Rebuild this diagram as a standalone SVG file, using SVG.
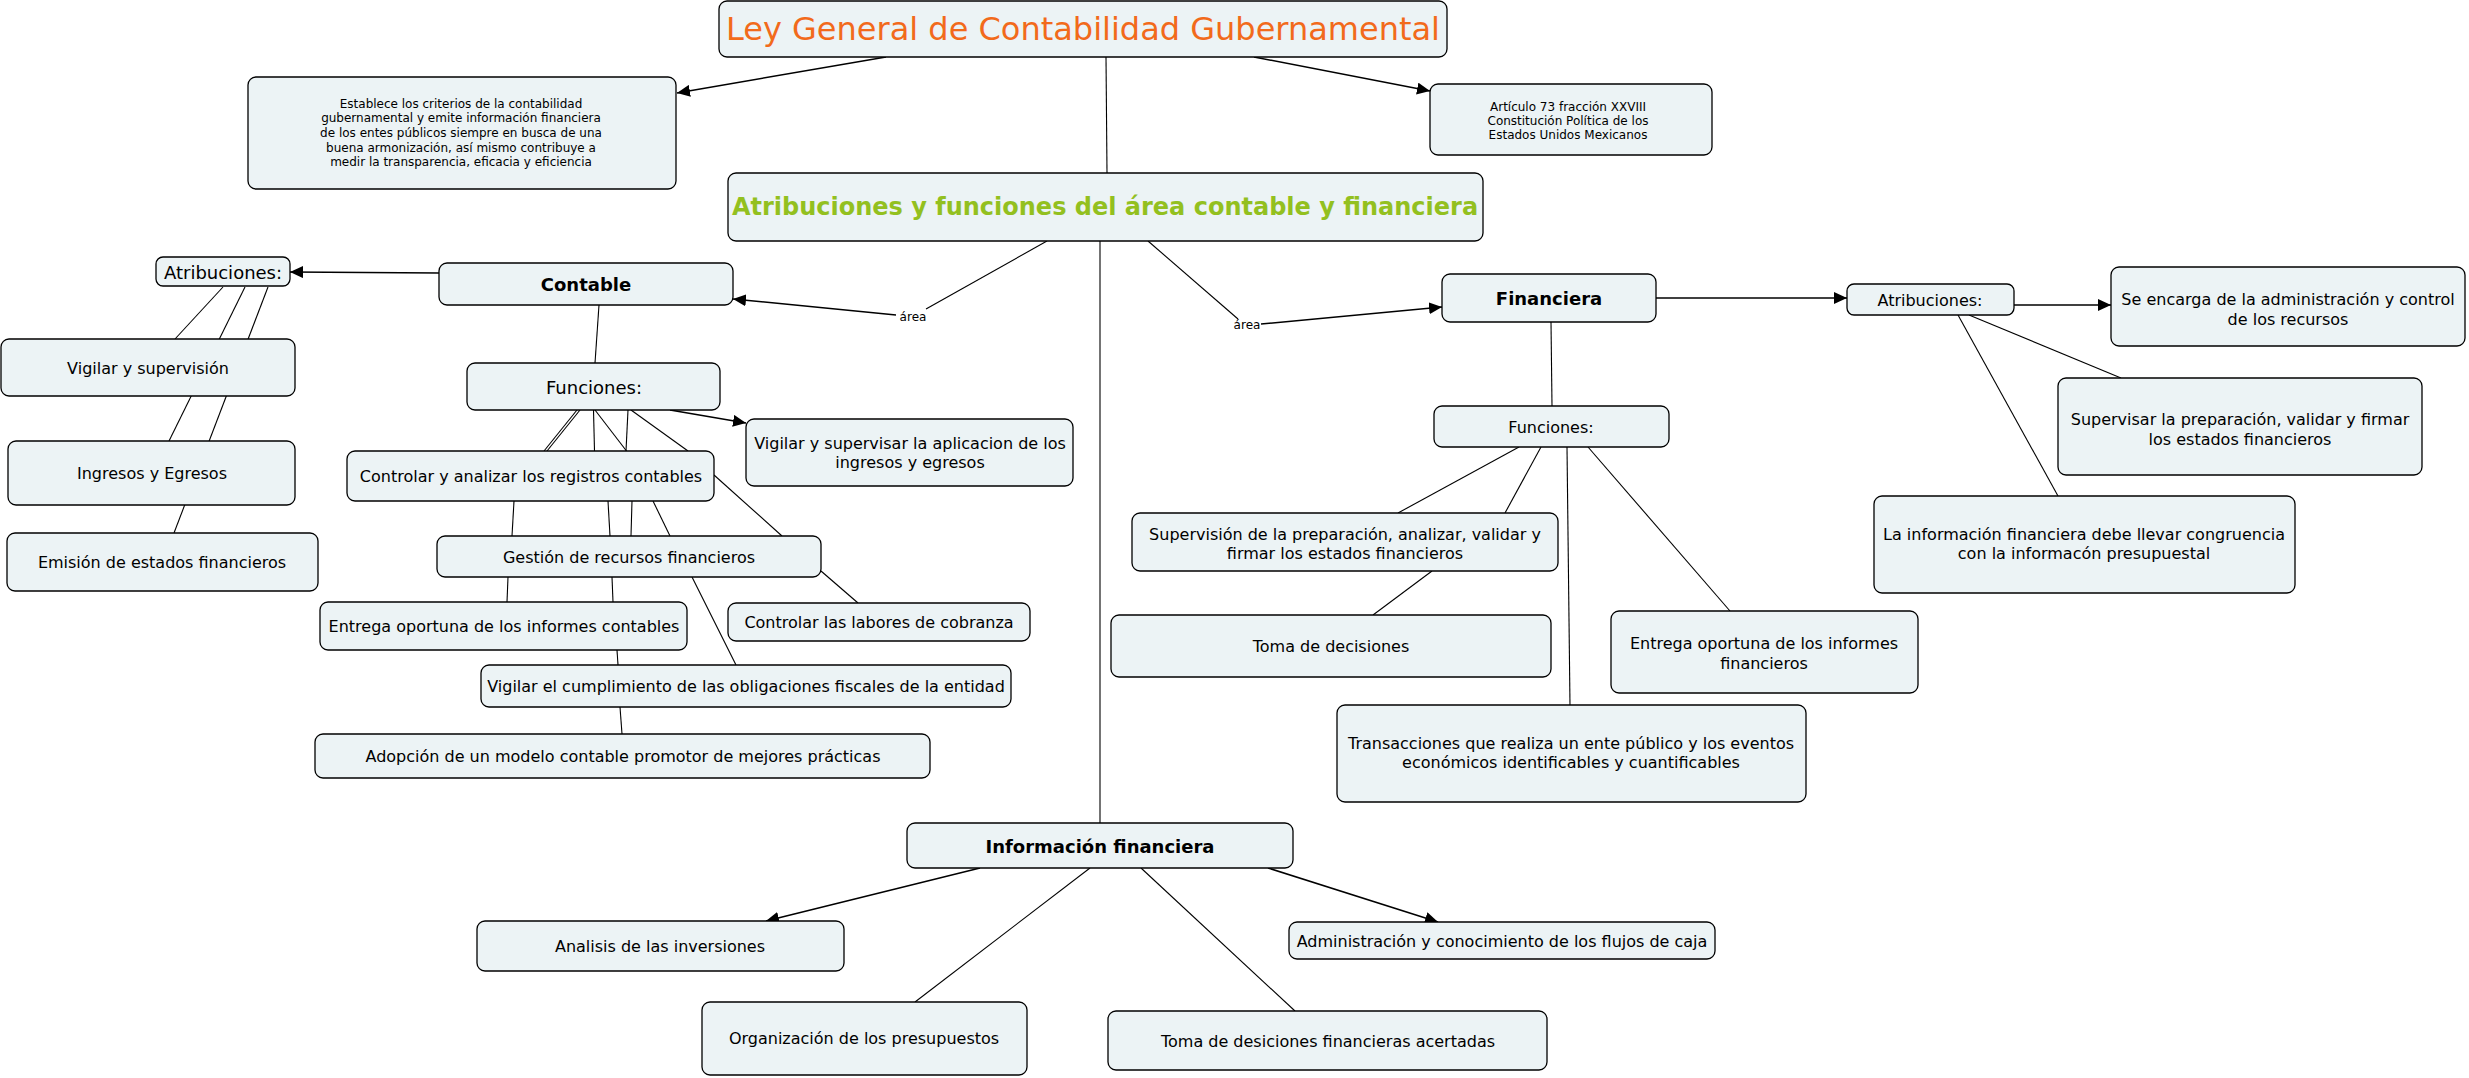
<svg xmlns="http://www.w3.org/2000/svg" width="2469" height="1078" viewBox="0 0 2469 1078">
<defs>
<marker id="ah" markerUnits="userSpaceOnUse" markerWidth="14" markerHeight="12" refX="13" refY="6" orient="auto">
<path d="M0,0 L13,6 L0,12 Z" fill="#000"/>
</marker>
<style>
.n rect{fill:#ECF3F5;stroke:#000;stroke-width:1.3}
.n text{font-family:"DejaVu Sans",Verdana,sans-serif;font-size:16px;fill:#000;text-anchor:middle;dominant-baseline:central}
.n text.s{font-size:12px}
.n text.b{font-weight:bold;font-size:18px}
.n text.m{font-size:18px}
#c line{stroke:#000;stroke-width:1.1}
#c line.a{stroke-width:1.5;marker-end:url(#ah)}
.lbl{font-family:"DejaVu Sans",Verdana,sans-serif;font-size:12px;fill:#000;text-anchor:middle;dominant-baseline:central}
</style>
</defs>
<rect width="2469" height="1078" fill="#fff"/>
<g id="c">
<line class="a" x1="886" y1="57" x2="677" y2="93"/>
<line x1="1106" y1="57" x2="1107" y2="173"/>
<line class="a" x1="1254" y1="57" x2="1430" y2="91"/>
<line x1="1047" y1="241" x2="926" y2="309"/>
<line class="a" x1="896" y1="315" x2="733" y2="299"/>
<line x1="1148" y1="241" x2="1238" y2="319"/>
<line class="a" x1="1261" y1="324" x2="1442" y2="307"/>
<line x1="1100" y1="241" x2="1100" y2="823"/>
<line class="a" x1="439" y1="273" x2="290" y2="272"/>
<line x1="223" y1="287" x2="175" y2="339"/>
<line x1="245" y1="287" x2="169" y2="441"/>
<line x1="268" y1="287" x2="174" y2="533"/>
<line x1="599" y1="305" x2="595" y2="363"/>
<line class="a" x1="670" y1="410" x2="746" y2="423"/>
<line x1="577" y1="410" x2="544" y2="451"/>
<line x1="580" y1="410" x2="547" y2="451"/>
<line x1="593.5" y1="410" x2="594.5" y2="451"/>
<line x1="595" y1="410" x2="626.5" y2="451"/>
<line x1="628" y1="410" x2="626" y2="451"/>
<line x1="631" y1="410" x2="688" y2="451"/>
<line x1="514" y1="501" x2="512" y2="536"/>
<line x1="608" y1="501" x2="610" y2="536"/>
<line x1="632" y1="501" x2="631" y2="536"/>
<line x1="653" y1="501" x2="670" y2="536"/>
<line x1="714" y1="475" x2="782" y2="536"/>
<line x1="508" y1="577" x2="507" y2="602"/>
<line x1="612" y1="577" x2="613" y2="602"/>
<line x1="692" y1="577" x2="736" y2="665"/>
<line x1="821" y1="571" x2="858" y2="603"/>
<line x1="617" y1="650" x2="618" y2="665"/>
<line x1="620" y1="707" x2="622" y2="734"/>
<line x1="1551" y1="322" x2="1552" y2="406"/>
<line class="a" x1="1656" y1="298" x2="1847" y2="298"/>
<line class="a" x1="2014" y1="305" x2="2111" y2="305"/>
<line x1="1969" y1="315" x2="2121" y2="378"/>
<line x1="1958" y1="315" x2="2058" y2="496"/>
<line x1="1519" y1="447" x2="1398" y2="513"/>
<line x1="1541" y1="447" x2="1505" y2="513"/>
<line x1="1567" y1="447" x2="1570" y2="705"/>
<line x1="1588" y1="447" x2="1730" y2="611"/>
<line x1="1432" y1="571" x2="1373" y2="615"/>
<line class="a" x1="980" y1="868" x2="766" y2="921"/>
<line x1="1090" y1="868" x2="915" y2="1002"/>
<line x1="1141" y1="868" x2="1295" y2="1011"/>
<line class="a" x1="1268" y1="868" x2="1438" y2="922"/>
<text class="lbl" x="913" y="317">área</text>
<text class="lbl" x="1247" y="325">área</text>
</g>
<g id="title" class="n"><rect x="719" y="1" width="728" height="56" rx="8"/><text x="1083" y="29" style="font-size:32px;fill:#F26A1B">Ley General de Contabilidad Gubernamental</text></g>
<g id="establece" class="n"><rect x="248" y="77" width="428" height="112" rx="8"/>
<text class="s" x="461" y="103.6">Establece los criterios de la contabilidad</text>
<text class="s" x="461" y="118.3">gubernamental y emite información financiera</text>
<text class="s" x="461" y="133">de los entes públicos siempre en busca de una</text>
<text class="s" x="461" y="147.7">buena armonización, así mismo contribuye a</text>
<text class="s" x="461" y="162.4">medir la transparencia, eficacia y eficiencia</text></g>
<g id="articulo" class="n"><rect x="1430" y="84" width="282" height="71" rx="8"/>
<text class="s" x="1568" y="107">Artículo 73 fracción XXVIII</text>
<text class="s" x="1568" y="121">Constitución Política de los</text>
<text class="s" x="1568" y="135">Estados Unidos Mexicanos</text></g>
<g id="main" class="n"><rect x="728" y="173" width="755" height="68" rx="8"/><text x="1105" y="207" style="font-size:24px;font-weight:bold;fill:#93C01F">Atribuciones y funciones del área contable y financiera</text></g>
<g id="contable" class="n"><rect x="439" y="263" width="294" height="42" rx="8"/><text class="b" x="586" y="284">Contable</text></g>
<g id="atribL" class="n"><rect x="156" y="257" width="134" height="29" rx="7"/><text class="m" x="223" y="272">Atribuciones:</text></g>
<g id="vigilarSup" class="n"><rect x="1" y="339" width="294" height="57" rx="8"/><text x="148" y="368">Vigilar y supervisión</text></g>
<g id="ingresos" class="n"><rect x="8" y="441" width="287" height="64" rx="8"/><text x="152" y="473">Ingresos y Egresos</text></g>
<g id="emision" class="n"><rect x="7" y="533" width="311" height="58" rx="8"/><text x="162" y="562">Emisión de estados financieros</text></g>
<g id="funcionesC" class="n"><rect x="467" y="363" width="253" height="47" rx="8"/><text class="m" x="594" y="387">Funciones:</text></g>
<g id="vigilarApl" class="n"><rect x="746" y="419" width="327" height="67" rx="8"/><text x="910" y="443">Vigilar y supervisar la aplicacion de los</text><text x="910" y="462">ingresos y egresos</text></g>
<g id="controlar" class="n"><rect x="347" y="451" width="367" height="50" rx="8"/><text x="531" y="476">Controlar y analizar los registros contables</text></g>
<g id="gestion" class="n"><rect x="437" y="536" width="384" height="41" rx="8"/><text x="629" y="557">Gestión de recursos financieros</text></g>
<g id="entregaC" class="n"><rect x="320" y="602" width="367" height="48" rx="8"/><text x="504" y="626">Entrega oportuna de los informes contables</text></g>
<g id="cobranza" class="n"><rect x="728" y="603" width="302" height="38" rx="8"/><text x="879" y="622">Controlar las labores de cobranza</text></g>
<g id="vigilarCump" class="n"><rect x="481" y="665" width="530" height="42" rx="8"/><text x="746" y="686">Vigilar el cumplimiento de las obligaciones fiscales de la entidad</text></g>
<g id="adopcion" class="n"><rect x="315" y="734" width="615" height="44" rx="8"/><text x="623" y="756">Adopción de un modelo contable promotor de mejores prácticas</text></g>
<g id="financiera" class="n"><rect x="1442" y="274" width="214" height="48" rx="8"/><text class="b" x="1549" y="298">Financiera</text></g>
<g id="atribR" class="n"><rect x="1847" y="284" width="167" height="31" rx="7"/><text x="1930" y="300">Atribuciones:</text></g>
<g id="seEncarga" class="n"><rect x="2111" y="267" width="354" height="79" rx="8"/><text x="2288" y="299">Se encarga de la administración y control</text><text x="2288" y="319">de los recursos</text></g>
<g id="supervisar" class="n"><rect x="2058" y="378" width="364" height="97" rx="8"/><text x="2240" y="419">Supervisar la preparación, validar y firmar</text><text x="2240" y="439">los estados financieros</text></g>
<g id="laInfo" class="n"><rect x="1874" y="496" width="421" height="97" rx="8"/><text x="2084" y="534">La información financiera debe llevar congruencia</text><text x="2084" y="553">con la informacón presupuestal</text></g>
<g id="funcionesF" class="n"><rect x="1434" y="406" width="235" height="41" rx="8"/><text x="1551" y="427">Funciones:</text></g>
<g id="supervision" class="n"><rect x="1132" y="513" width="426" height="58" rx="8"/><text x="1345" y="534">Supervisión de la preparación, analizar, validar y</text><text x="1345" y="553">firmar los estados financieros</text></g>
<g id="tomaDec" class="n"><rect x="1111" y="615" width="440" height="62" rx="8"/><text x="1331" y="646">Toma de decisiones</text></g>
<g id="entregaF" class="n"><rect x="1611" y="611" width="307" height="82" rx="8"/><text x="1764" y="643">Entrega oportuna de los informes</text><text x="1764" y="663">financieros</text></g>
<g id="transacciones" class="n"><rect x="1337" y="705" width="469" height="97" rx="8"/><text x="1571" y="743">Transacciones que realiza un ente público y los eventos</text><text x="1571" y="762">económicos identificables y cuantificables</text></g>
<g id="infoFin" class="n"><rect x="907" y="823" width="386" height="45" rx="8"/><text class="b" x="1100" y="846">Información financiera</text></g>
<g id="analisis" class="n"><rect x="477" y="921" width="367" height="50" rx="8"/><text x="660" y="946">Analisis de las inversiones</text></g>
<g id="organizacion" class="n"><rect x="702" y="1002" width="325" height="73" rx="8"/><text x="864" y="1038">Organización de los presupuestos</text></g>
<g id="tomaFin" class="n"><rect x="1108" y="1011" width="439" height="59" rx="8"/><text x="1328" y="1041">Toma de desiciones financieras acertadas</text></g>
<g id="administracion" class="n"><rect x="1289" y="922" width="426" height="37" rx="8"/><text x="1502" y="941">Administración y conocimiento de los flujos de caja</text></g>
</svg>
